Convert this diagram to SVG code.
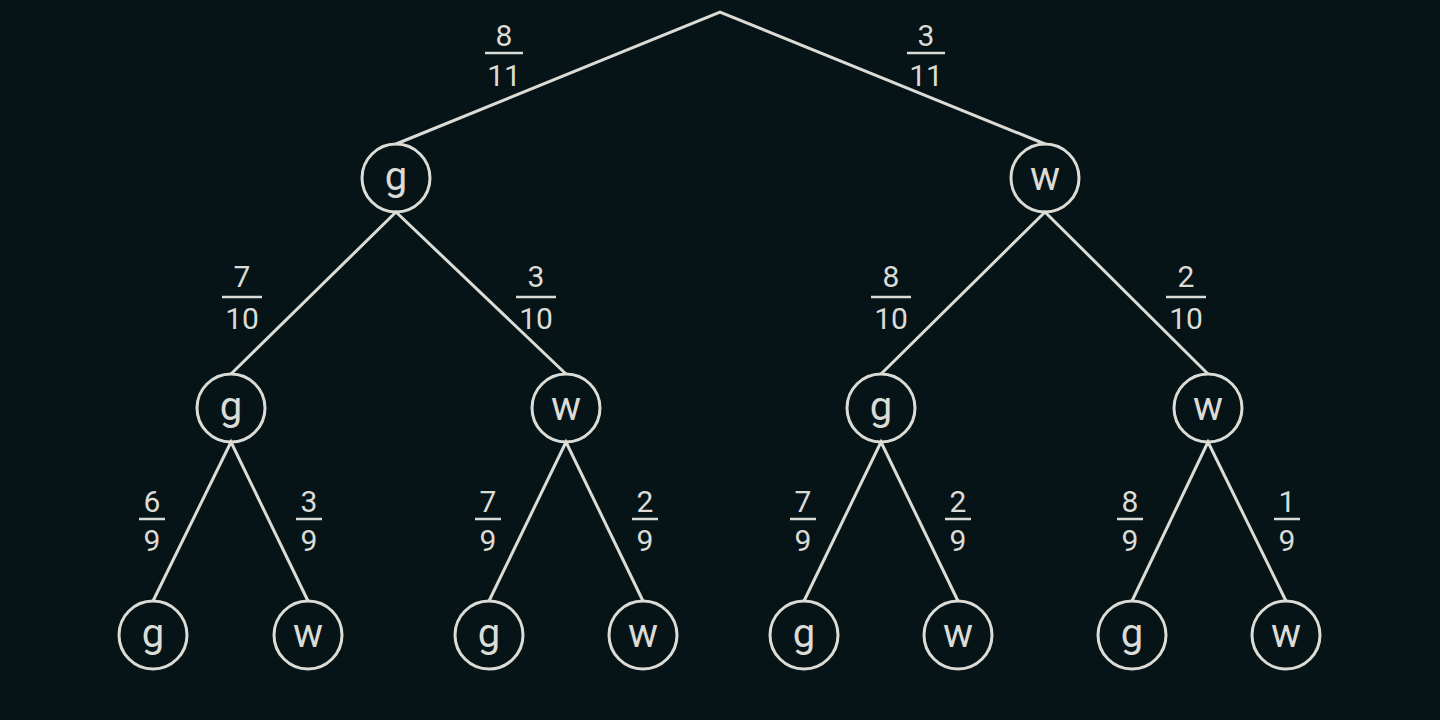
<svg xmlns="http://www.w3.org/2000/svg" width="1440" height="720" viewBox="0 0 1440 720">
<style>
.e{stroke:#dcdcd6;stroke-width:3;fill:none}
.n circle{fill:none;stroke:#dcdcd6;stroke-width:3}
.n text{fill:#dcdcd6;font-family:Roboto,"Liberation Sans",sans-serif;font-size:40px;text-anchor:middle}
.f text{fill:#dcdcd6;font-family:Roboto,"Liberation Sans",sans-serif;font-size:30px;text-anchor:middle}
.f line{stroke:#dcdcd6;stroke-width:2.5}
</style>
<rect width="1440" height="720" fill="#061418"/>
<g id="connectors" class="e">
<path d="M396 144L720 12L1045 144"/>
<path d="M231 374L396 212L566 374"/>
<path d="M881 374L1045 212L1208 374"/>
<path d="M153 601L231 442L308 601"/>
<path d="M489 601L566 442L643 601"/>
<path d="M804 601L881 442L958 601"/>
<path d="M1132 601L1208 442L1286 601"/>
</g>
<g id="labels" class="f">
<g><text x="504" y="46">8</text><line x1="485" y1="53" x2="523" y2="53"/><text x="504" y="86">11</text></g>
<g><text x="926" y="46">3</text><line x1="907" y1="53" x2="945" y2="53"/><text x="926" y="86">11</text></g>
<g><text x="242" y="287">7</text><line x1="222" y1="297" x2="262" y2="297"/><text x="242" y="329">10</text></g>
<g><text x="536" y="287">3</text><line x1="516" y1="297" x2="556" y2="297"/><text x="536" y="329">10</text></g>
<g><text x="891" y="287">8</text><line x1="871" y1="297" x2="911" y2="297"/><text x="891" y="329">10</text></g>
<g><text x="1186" y="287">2</text><line x1="1166" y1="297" x2="1206" y2="297"/><text x="1186" y="329">10</text></g>
<g><text x="152" y="512">6</text><line x1="139" y1="519" x2="165" y2="519"/><text x="152" y="551">9</text></g>
<g><text x="309" y="512">3</text><line x1="296" y1="519" x2="322" y2="519"/><text x="309" y="551">9</text></g>
<g><text x="488" y="512">7</text><line x1="475" y1="519" x2="501" y2="519"/><text x="488" y="551">9</text></g>
<g><text x="645" y="512">2</text><line x1="632" y1="519" x2="658" y2="519"/><text x="645" y="551">9</text></g>
<g><text x="803" y="512">7</text><line x1="790" y1="519" x2="816" y2="519"/><text x="803" y="551">9</text></g>
<g><text x="958" y="512">2</text><line x1="945" y1="519" x2="971" y2="519"/><text x="958" y="551">9</text></g>
<g><text x="1130" y="512">8</text><line x1="1117" y1="519" x2="1143" y2="519"/><text x="1130" y="551">9</text></g>
<g><text x="1287" y="512">1</text><line x1="1274" y1="519" x2="1300" y2="519"/><text x="1287" y="551">9</text></g>
</g>
<g id="n1" class="n"><circle cx="396" cy="178" r="34"/><text x="396" y="190">g</text></g>
<g id="n2" class="n"><circle cx="1045" cy="178" r="34"/><text x="1045" y="190">w</text></g>
<g id="n3" class="n"><circle cx="231" cy="408" r="34"/><text x="231" y="420">g</text></g>
<g id="n4" class="n"><circle cx="566" cy="408" r="34"/><text x="566" y="420">w</text></g>
<g id="n5" class="n"><circle cx="881" cy="408" r="34"/><text x="881" y="420">g</text></g>
<g id="n6" class="n"><circle cx="1208" cy="408" r="34"/><text x="1208" y="420">w</text></g>
<g id="n7" class="n"><circle cx="153" cy="635" r="34"/><text x="153" y="647">g</text></g>
<g id="n8" class="n"><circle cx="308" cy="635" r="34"/><text x="308" y="647">w</text></g>
<g id="n9" class="n"><circle cx="489" cy="635" r="34"/><text x="489" y="647">g</text></g>
<g id="n10" class="n"><circle cx="643" cy="635" r="34"/><text x="643" y="647">w</text></g>
<g id="n11" class="n"><circle cx="804" cy="635" r="34"/><text x="804" y="647">g</text></g>
<g id="n12" class="n"><circle cx="958" cy="635" r="34"/><text x="958" y="647">w</text></g>
<g id="n13" class="n"><circle cx="1132" cy="635" r="34"/><text x="1132" y="647">g</text></g>
<g id="n14" class="n"><circle cx="1286" cy="635" r="34"/><text x="1286" y="647">w</text></g>
</svg>
